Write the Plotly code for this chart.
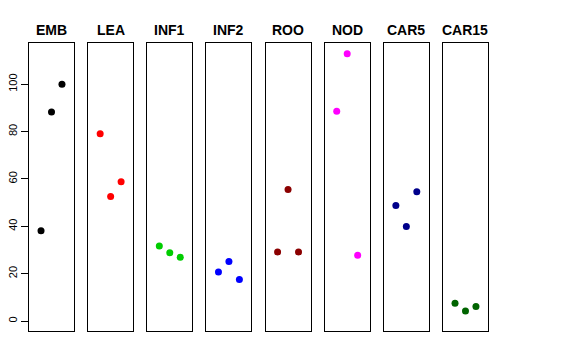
import plotly.graph_objects as go

panels = ["EMB", "LEA", "INF1", "INF2", "ROO", "NOD", "CAR5", "CAR15"]
colors = ["#000000", "#FF0000", "#00CD00", "#0000FF", "#8B0000", "#FF00FF", "#00008B", "#006400"]
x_pos = [1, 2, 3]
EMB = [38.1, 88.3, 100.0]
LEA = [79.1, 52.6, 58.8]
INF1 = [31.7, 28.8, 26.9]
INF2 = [20.7, 25.1, 17.5]
ROO = [29.2, 55.6, 29.2]
NOD = [88.6, 112.9, 27.8]
CAR5 = [48.8, 39.9, 54.6]
CAR15 = [7.5, 4.2, 6.1]
values = [EMB, LEA, INF1, INF2, ROO, NOD, CAR5, CAR15]
y_ticks = [0, 20, 40, 60, 80, 100]

W, H = 576, 360
OFF = 8.0  # page body margin offset
left0, step, pw = 29.0 - OFF, 59.14, 45.0
top_px, bot_px = 43.3 - OFF, 331.0 - OFF
title_px = 29.5 - OFF

fig = go.Figure()
layout = dict(
    width=W, height=H, margin=dict(l=0, r=0, t=0, b=0),
    paper_bgcolor="white", plot_bgcolor="white", showlegend=False,
    font=dict(family="Liberation Sans, Arial, sans-serif", color="black"),
)
annotations = []
for i, (name, col, vals) in enumerate(zip(panels, colors, values)):
    k = "" if i == 0 else str(i + 1)
    fig.add_trace(go.Scatter(x=x_pos, y=vals, mode="markers",
                             marker=dict(color=col, size=7),
                             xaxis="x" + k, yaxis="y" + k, hoverinfo="skip"))
    l = left0 + i * step
    dom_x = [l / W, (l + pw) / W]
    layout["xaxis" + k] = dict(domain=dom_x, range=[-0.15, 4.15], showgrid=False,
                               zeroline=False, showticklabels=False, ticks="",
                               showline=True, mirror=True, linecolor="black", linewidth=1,
                               anchor="y" + k, fixedrange=True)
    ya = dict(domain=[1 - bot_px / H, 1 - top_px / H], range=[-4.2, 117.3], showgrid=False,
              zeroline=False, showline=True, mirror=True, linecolor="black", linewidth=1,
              anchor="x" + k, fixedrange=True)
    if i == 0:
        ya.update(tickvals=y_ticks, ticktext=[str(v) for v in y_ticks], ticks="outside",
                  ticklen=7, tickcolor="black", tickangle=-90,
                  tickfont=dict(size=11, family="Liberation Sans, Arial, sans-serif"))
    else:
        ya.update(showticklabels=False, ticks="")
    layout["yaxis" + k] = ya
    annotations.append(dict(text="<b>" + name + "</b>", x=(l + pw / 2) / W, y=1 - title_px / H,
                            xref="paper", yref="paper", xanchor="center", yanchor="middle",
                            showarrow=False, font=dict(size=14, family="Liberation Sans, Arial, sans-serif")))
layout["annotations"] = annotations
fig.update_layout(**layout)
fig.write_html("out.html")
